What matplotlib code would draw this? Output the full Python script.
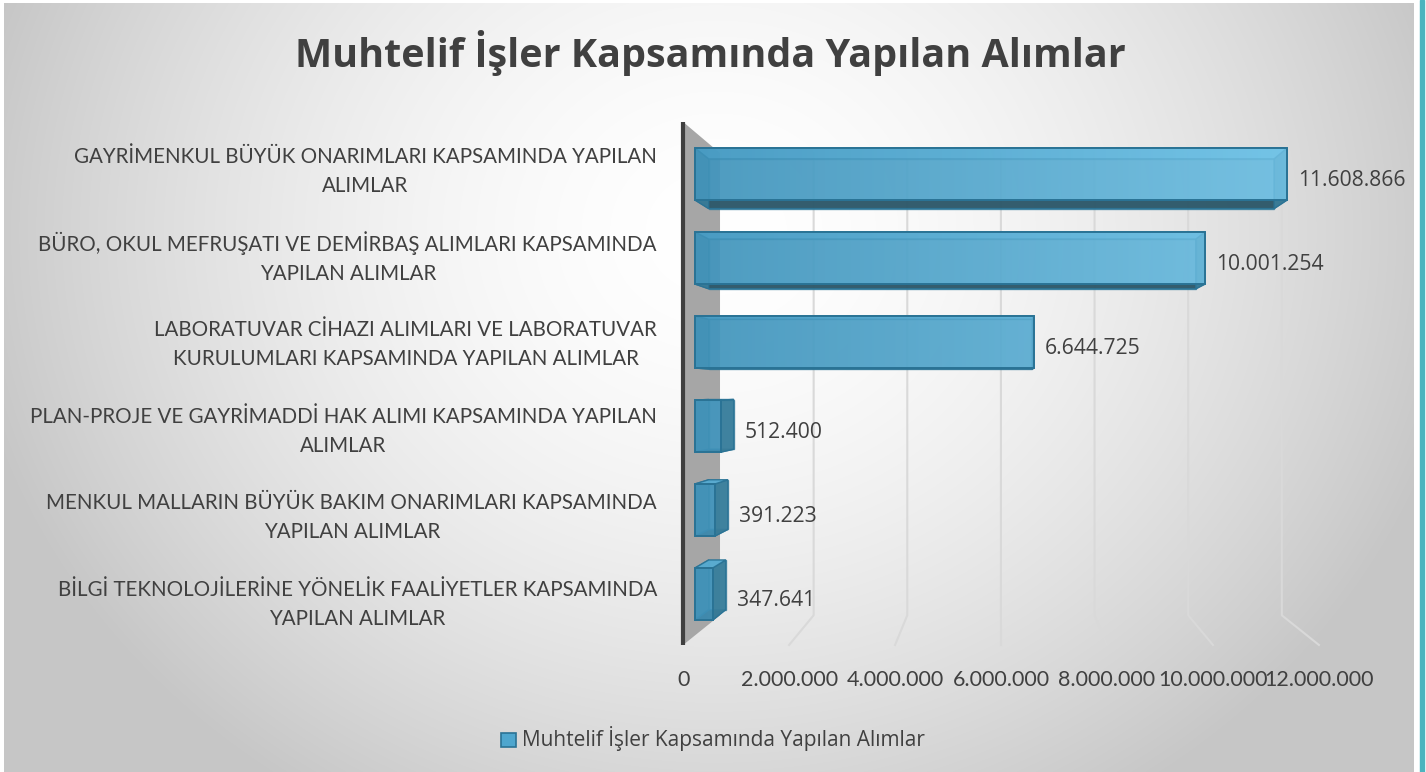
import numpy as np
import matplotlib
matplotlib.use("Agg")
import matplotlib.pyplot as plt
from matplotlib.patches import Polygon, Rectangle
from matplotlib.colors import LinearSegmentedColormap

# ---------------- data ----------------
categories = [
    "GAYRİMENKUL BÜYÜK ONARIMLARI KAPSAMINDA YAPILAN\nALIMLAR",
    "BÜRO, OKUL MEFRUŞATI VE DEMİRBAŞ ALIMLARI KAPSAMINDA\nYAPILAN ALIMLAR",
    "LABORATUVAR CİHAZI ALIMLARI VE LABORATUVAR\nKURULUMLARI KAPSAMINDA YAPILAN ALIMLAR",
    "PLAN-PROJE VE GAYRİMADDİ HAK ALIMI KAPSAMINDA YAPILAN\nALIMLAR",
    "MENKUL MALLARIN BÜYÜK BAKIM ONARIMLARI KAPSAMINDA\nYAPILAN ALIMLAR",
    "BİLGİ TEKNOLOJİLERİNE YÖNELİK FAALİYETLER KAPSAMINDA\nYAPILAN ALIMLAR",
]
values = [11608866, 10001254, 6644725, 512400, 391223, 347641]
tick_values = [0, 2000000, 4000000, 6000000, 8000000, 10000000, 12000000]
tick_labels = ["0", "2.000.000", "4.000.000", "6.000.000", "8.000.000", "10.000.000", "12.000.000"]
title = "Muhtelif İşler Kapsamında Yapılan Alımlar"
series_name = "Muhtelif İşler Kapsamında Yapılan Alımlar"


def fmt(v):
    return f"{v:,}".replace(",", ".")


# ---------------- figure ----------------
W, H = 1426, 772
fig = plt.figure(figsize=(W / 100, H / 100), dpi=100, facecolor="white")

bg = fig.add_axes([0, 0, 1, 1])
bg.set_axis_off()
bg.set_xlim(0, W)
bg.set_ylim(H, 0)
yy, xx = np.mgrid[0:H, 0:W]
r = np.sqrt(((xx - 720) / 730.0) ** 2 + ((yy - 230) / 640.0) ** 2)
val = 255 - 52 * np.clip(r, 0, 1.05) ** 1.7
img = np.dstack([val, val, val]) / 255.0
bg.imshow(np.clip(img, 0, 1), extent=(4, 1414, 772, 3), origin="upper",
          aspect="auto", zorder=0, interpolation="bilinear")
bg.add_patch(Rectangle((1420, 0), 4, H, color="#4BB4BE", zorder=1))
bg.set_xlim(0, W)
bg.set_ylim(H, 0)

# main axes: data x in value units, y in category units
AX_L, AX_R, AX_T, AX_B = 600, 1420, 100, 700
ax = fig.add_axes([AX_L / W, 1 - AX_B / H, (AX_R - AX_L) / W, (AX_B - AX_T) / H])
ax.set_axis_off()
ax.patch.set_alpha(0)

PX0, PXU = 695.0, 51.0 / 1e6      # x: pixel of 0, pixels per unit
PY0, PYC = 174.0, 84.0            # y: pixel of first category, pixels per category


def Xd(px):
    return (px - PX0) / PXU


def Yd(py):
    return (py - PY0) / PYC


XVP, YVP = Xd(1000), Yd(390)
S_FRONT, S_BOX, S_BACK = 1.039, 0.955, 0.918
Y_FLOOR, Y_TOP = Yd(635.4), Yd(132)


def proj(x, y, s):
    return (XVP + s * (x - XVP), YVP + s * (y - YVP))


# side wall
wall = [proj(0, Y_TOP, S_FRONT), proj(0, Y_TOP, S_BACK),
        proj(0, Y_FLOOR, S_BACK), proj(0, Y_FLOOR, S_FRONT)]
ax.add_patch(Polygon(wall, closed=True, facecolor="#A6A6A6", edgecolor="none", zorder=1))
p1, p2 = proj(0, Y_TOP, S_FRONT), proj(0, Y_FLOOR, S_FRONT)
ax.plot([p1[0], p2[0]], [p1[1], p2[1]], color="#3F3F3F", lw=3, zorder=2, solid_capstyle="butt")

# gridlines (back wall + floor)
for t in tick_values[1:]:
    a = proj(t, Y_TOP, S_BACK)
    b = proj(t, Y_FLOOR, S_BACK)
    c = proj(t, Y_FLOOR, S_FRONT)
    ax.plot([a[0], b[0], c[0]], [a[1], b[1], c[1]], color="#D9D9D9", lw=1.5, zorder=1.5)

# bars (3D boxes)
cmap = LinearSegmentedColormap.from_list("bar", ["#4397BF", "#7BCCEF"])
grad = np.linspace(0, 1, 256).reshape(1, -1)
HALF = 0.31
EDGE = "#2A7395"
for i, v in enumerate(values):
    cy = i
    F = [(0, cy - HALF), (v, cy - HALF), (v, cy + HALF), (0, cy + HALF)]
    B = [proj(x, y, S_BOX) for x, y in F]
    z = 3
    ax.add_patch(Polygon(B, closed=True, facecolor="#3D8BAE", edgecolor=EDGE, lw=1, alpha=0.7, zorder=z))
    faces = [
        ([F[3], F[2], B[2], B[3]], "#2D5565"),   # bottom
        ([F[0], F[3], B[3], B[0]], "#3A7E9B"),   # left
        ([F[1], F[2], B[2], B[1]], "#3A7E9B"),   # right
        ([F[0], F[1], B[1], B[0]], "#5AAED4"),   # top
    ]
    for pts, col in faces:
        ax.add_patch(Polygon(pts, closed=True, facecolor=col, edgecolor=EDGE, lw=1, alpha=0.9, zorder=z + 0.1))
    front = Polygon(F, closed=True, facecolor="none", edgecolor=EDGE, lw=1.4, zorder=z + 0.3)
    ax.add_patch(front)
    im = ax.imshow(grad, extent=(0, 12.2e6, cy + HALF, cy - HALF), aspect="auto", cmap=cmap,
                   alpha=0.78, zorder=z + 0.2, interpolation="bilinear")
    im.set_clip_path(front)

ax.set_xlim(Xd(AX_L), Xd(AX_R))
ax.set_ylim(Yd(AX_B), Yd(AX_T))

renderer = fig.canvas.get_renderer()


def fit(t, target):
    for _ in range(4):
        w = t.get_window_extent(renderer).width
        t.set_fontsize(t.get_fontsize() * target / w)
    return t.get_fontsize()


TXT = "#404040"

# value labels
vfont = "Open Sans"
tmp = fig.text(0, 0, fmt(values[0]), family=vfont, fontsize=16)
vsize = fit(tmp, 108)
tmp.remove()
for i, v in enumerate(values):
    cy = i
    xr = max(v, proj(v, cy, S_BOX)[0])
    ax.annotate(fmt(v), xy=(xr, cy), xytext=(11, -6), textcoords="offset pixels",
                ha="left", va="center", fontsize=vsize, family=vfont, color=TXT,
                annotation_clip=False, zorder=10)

# category labels
cfont = "Lato"
tmp = fig.text(0, 0, categories[0].split("\n")[0], family=cfont, fontsize=16)
csize = fit(tmp, 582)
tmp.remove()
for i, lab in enumerate(categories):
    yl = YVP + 1.031 * (i - YVP)
    ax.annotate(lab, xy=(657, yl), xycoords=("figure pixels", "data"),
                xytext=(0, -4), textcoords="offset pixels",
                ha="right", va="center", multialignment="center",
                fontsize=csize, family=cfont, color=TXT, linespacing=1.55,
                annotation_clip=False)

# x tick labels on the floor front edge
tfont = "Lato"
tmp = fig.text(0, 0, tick_labels[1], family=tfont, fontsize=16)
tsize = fit(tmp, 97)
tmp.remove()
for t, lab in zip(tick_values, tick_labels):
    p = proj(t, Y_FLOOR, S_FRONT)
    ax.annotate(lab, xy=p, xytext=(0, -35), textcoords="offset pixels",
                ha="center", va="center", fontsize=tsize, family=tfont, color=TXT,
                annotation_clip=False)

# title
tt = bg.text(710, 67, title, ha="center", va="baseline", family="Open Sans",
             fontweight="bold", color=TXT, fontsize=30)
fit(tt, 830)

# legend
bg.add_patch(Rectangle((501, 733), 15, 14, facecolor="#4EA6CE", edgecolor=EDGE, lw=1.2, zorder=5))
lt = bg.text(522, 746, series_name, ha="left", va="baseline", family="Open Sans",
             color=TXT, fontsize=16, zorder=5)
fit(lt, 403)

fig.savefig("out.png", dpi=100, facecolor="white")
